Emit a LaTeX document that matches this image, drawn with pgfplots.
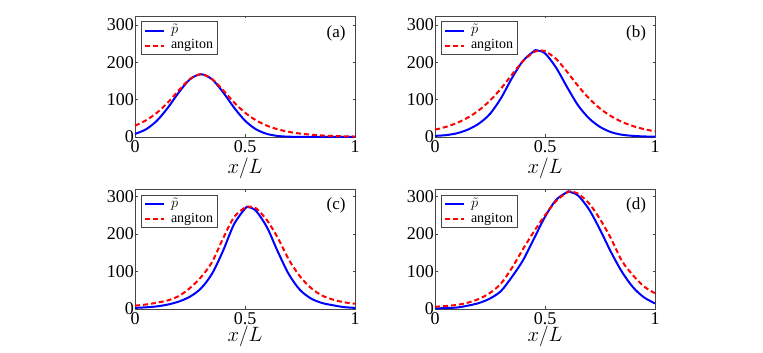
\documentclass[border=0pt]{standalone}
\usepackage{fontspec}
\setmainfont{Liberation Serif}
\usepackage{pgfplots}
\pgfplotsset{compat=1.18}
\definecolor{frame}{RGB}{70,70,70}
\pgfplotsset{
  panel/.style={
    scale only axis, width=220pt,
    xmin=0, xmax=1, ymin=0,
    xtick={0,0.5,1}, ytick={0,100,200,300},
    tick align=inside, major tick length=2.5pt,
    axis line style={frame, line width=0.6pt},
    tick style={frame, line width=0.5pt},
    every tick label/.append style={font=\fontsize{18}{20}\selectfont},
    /pgf/number format/assume math mode=true,
    yticklabel style={inner sep=1pt},
    xticklabel style={inner sep=1pt, yshift=-2pt},
    xlabel={$x/L$},
    xlabel style={font=\fontsize{20}{22}\selectfont, anchor=center},
    legend style={at={(rel axis cs:0,1)}, anchor=north west, xshift=5.7pt, yshift=-5.5pt,
      draw=frame, line width=0.6pt, font=\fontsize{14}{16}\selectfont,
      inner xsep=3pt, inner ysep=1.5pt, row sep=0.5pt, column sep=5pt,
      nodes={inner sep=1pt, text height=9.5pt, text depth=3pt}},
    legend cell align=left,
    legend image code/.code={\draw[#1] (0pt,0pt) -- (19pt,0pt);},
    clip=false,
  },
  pblue/.style={color={rgb,255:red,0;green,0;blue,255}, line width=2pt, smooth},
  pred/.style={color={rgb,255:red,255;green,0;blue,0}, line width=2pt, dash pattern=on 5pt off 3pt, smooth},
}
\begin{document}
\begin{tikzpicture}
\path[use as bounding box] (0pt,0pt) rectangle (763pt,353pt);
% (a)
\begin{axis}[panel, at={(135pt,216pt)}, anchor=south west, height=121pt, ymax=324,
  xlabel style={at={(axis description cs:0.5,-0.256)}}]
\addplot[pblue] coordinates {(0,8.2)(0.05,20.6)(0.1,43.8)(0.15,78.9)(0.2,120.1)(0.25,154.5)(0.3,168)(0.35,154.5)(0.4,120.1)(0.45,78.9)(0.5,43.8)(0.55,20.6)(0.6,8.2)(0.65,2.7)(0.7,0.8)(0.75,0.2)(0.8,0.05)(0.85,0)(0.9,0)(0.95,0)(1,0)};
\addlegendentry{$\tilde{p}$}
\addplot[pred] coordinates {(0,30.2)(0.05,44.7)(0.1,65.2)(0.15,92.8)(0.2,125.6)(0.25,155.4)(0.3,168)(0.35,155.4)(0.4,125.6)(0.45,92.8)(0.5,65.2)(0.55,44.7)(0.6,30.2)(0.65,20.4)(0.7,13.7)(0.75,9.2)(0.8,6.2)(0.85,4.1)(0.9,2.8)(0.95,1.9)(1,1.2)};
\addlegendentry{angiton}
\node[font=\fontsize{17}{20}\selectfont] at (rel axis cs:0.914,0.86) {(a)};
\end{axis}
% (b)
\begin{axis}[panel, at={(435pt,216pt)}, anchor=south west, height=121pt, ymax=324,
  xlabel style={at={(axis description cs:0.5,-0.256)}}]
\addplot[pblue] coordinates {(0,3)(0.05,5)(0.1,10)(0.15,20)(0.2,36)(0.25,62)(0.3,104)(0.35,158)(0.4,204)(0.45,230)(0.462,232)(0.5,224)(0.55,186)(0.6,134)(0.65,85)(0.7,50)(0.75,27)(0.8,13)(0.85,6)(0.9,3)(0.95,1.5)(1,0.8)};
\addlegendentry{$\tilde{p}$}
\addplot[pred] coordinates {(0,19.7)(0.05,27.3)(0.1,37.8)(0.15,52.2)(0.2,71.8)(0.25,97.5)(0.3,129.8)(0.35,167.2)(0.4,203.2)(0.45,227.6)(0.48,232)(0.5,230)(0.55,209.4)(0.6,174.8)(0.65,137)(0.7,103.4)(0.75,76.3)(0.8,55.8)(0.85,40.4)(0.9,29.2)(0.95,21)(1,15.2)};
\addlegendentry{angiton}
\node[font=\fontsize{17}{20}\selectfont] at (rel axis cs:0.914,0.86) {(b)};
\end{axis}
% (c)
\begin{axis}[panel, at={(135pt,44pt)}, anchor=south west, height=119.5pt, ymax=319,
  xlabel style={at={(axis description cs:0.5,-0.232)}}]
\addplot[pblue] coordinates {(0,3)(0.05,4.5)(0.1,7)(0.15,12)(0.2,20)(0.25,33)(0.3,55)(0.35,94)(0.4,155)(0.45,226)(0.5,268)(0.515,272)(0.55,262)(0.6,218)(0.65,152)(0.7,92)(0.75,51)(0.8,28)(0.85,16)(0.9,10)(0.95,5)(1,3)};
\addlegendentry{$\tilde{p}$}
\addplot[pred] coordinates {(0,9)(0.05,12)(0.1,17)(0.15,23)(0.2,35)(0.25,56)(0.3,85)(0.35,125)(0.4,188)(0.45,245)(0.5,271)(0.52,273)(0.55,269)(0.6,237)(0.65,189)(0.7,131)(0.75,87)(0.8,56)(0.85,36)(0.9,25)(0.95,18)(1,14)};
\addlegendentry{angiton}
\node[font=\fontsize{17}{20}\selectfont] at (rel axis cs:0.914,0.864) {(c)};
\end{axis}
% (d)
\begin{axis}[panel, at={(435pt,44pt)}, anchor=south west, height=119.5pt, ymax=319,
  xlabel style={at={(axis description cs:0.5,-0.232)}}]
\addplot[pblue] coordinates {(0,1.5)(0.05,2.5)(0.1,4)(0.15,9)(0.2,16)(0.25,28)(0.3,48)(0.35,86)(0.4,130)(0.45,188)(0.5,246)(0.55,291)(0.6,312)(0.61,313)(0.65,303)(0.7,266)(0.75,212)(0.8,152)(0.85,99)(0.9,58)(0.95,31)(1,15)};
\addlegendentry{$\tilde{p}$}
\addplot[pred] coordinates {(0,6)(0.05,8)(0.1,11)(0.15,17)(0.2,27)(0.25,43)(0.3,68)(0.35,110)(0.4,160)(0.45,207)(0.5,250)(0.55,288)(0.6,311)(0.615,314)(0.65,308)(0.7,282)(0.75,240)(0.8,188)(0.85,128)(0.9,90)(0.95,60)(1,42)};
\addlegendentry{angiton}
\node[font=\fontsize{17}{20}\selectfont] at (rel axis cs:0.914,0.864) {(d)};
\end{axis}
\end{tikzpicture}
\end{document}
